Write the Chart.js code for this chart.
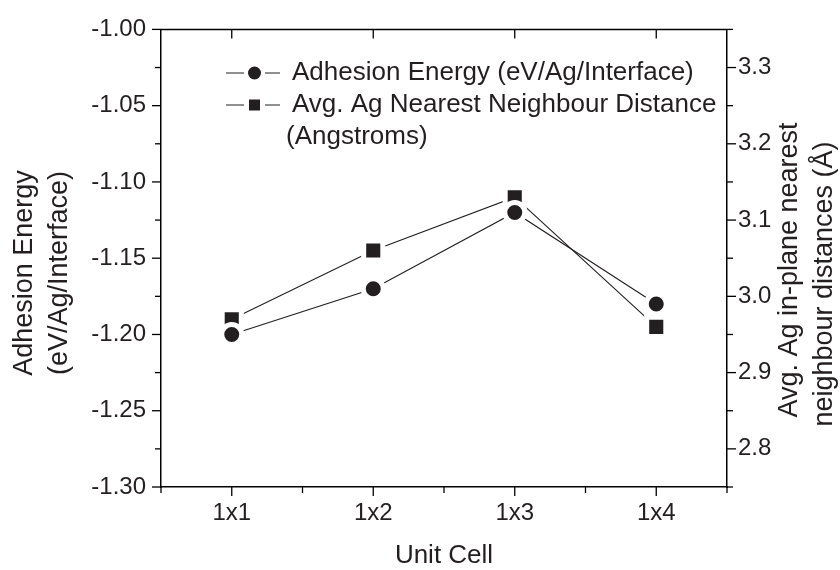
<!DOCTYPE html>
<html>
<head>
<meta charset="utf-8">
<script src="https://cdn.jsdelivr.net/npm/chart.js@4.4.0/dist/chart.umd.min.js"></script>
<style>
  html, body { margin: 0; padding: 0; background: #fff; }
  #wrap { width: 840px; height: 570px; }
</style>
</head>
<body>
<div id="wrap"><canvas id="myChart"></canvas></div>
<script>
var cells = ["1x1", "1x2", "1x3", "1x4"];
var adhesionEnergy = [-1.20, -1.17, -1.12, -1.18];
var nnDistance = [2.97, 3.06, 3.13, 2.96];

var xMajor = [1, 2, 3, 4];
var xMinor = [0.5, 1.5, 2.5, 3.5, 4.5];
var leftMajor = [-1.30, -1.25, -1.20, -1.15, -1.10, -1.05, -1.00];
var leftMinor = [-1.275, -1.225, -1.175, -1.125, -1.075, -1.025];
var rightMajor = [2.8, 2.9, 3.0, 3.1, 3.2, 3.3];
var rightMinor = [2.75, 2.85, 2.95, 3.05, 3.15, 3.25, 3.35];

var FONT = "'Liberation Sans', Arial, Helvetica, sans-serif";
var INK = "#231f20";

function isIn(list, v) {
  return list.some(function (m) { return Math.abs(m - v) < 1e-9; });
}
function tickList(a, b) {
  return a.concat(b).sort(function (p, q) { return p - q; }).map(function (v) { return { value: v }; });
}

// axis frame, tick marks, rotated titles and the in-plot legend
var frame = {
  id: "frame",
  afterDraw: function (chart) {
    var c = chart.ctx, a = chart.chartArea;
    var sx = chart.scales.x, sy = chart.scales.y, sy2 = chart.scales.y2;
    function seg(x1, y1, x2, y2) { c.beginPath(); c.moveTo(x1, y1); c.lineTo(x2, y2); c.stroke(); }
    c.save();
    c.strokeStyle = "#000";
    c.lineWidth = 1.5;
    seg(a.left, a.top, a.right, a.top);
    c.lineWidth = 1.3;
    xMajor.forEach(function (v) {
      var x = sx.getPixelForValue(v);
      seg(x, a.bottom, x, a.bottom + 9);
      seg(x, a.top, x, a.top + 9);
    });
    xMinor.forEach(function (v) {
      var x = sx.getPixelForValue(v);
      seg(x, a.bottom, x, a.bottom + 6);
    });
    leftMajor.forEach(function (v) { var y = sy.getPixelForValue(v); seg(a.left - 9, y, a.left, y); });
    leftMinor.forEach(function (v) { var y = sy.getPixelForValue(v); seg(a.left - 6, y, a.left, y); });
    rightMajor.forEach(function (v) { var y = sy2.getPixelForValue(v); seg(a.right, y, a.right + 9, y); });
    rightMinor.forEach(function (v) { var y = sy2.getPixelForValue(v); seg(a.right, y, a.right + 6, y); });

    // y titles, both reading bottom to top
    c.fillStyle = INK;
    c.font = "27px " + FONT;
    c.textAlign = "center";
    c.textBaseline = "middle";
    function vtext(t, x, y) {
      c.save(); c.translate(x, y); c.rotate(-Math.PI / 2); c.fillText(t, 0, 0); c.restore();
    }
    vtext("Adhesion Energy", 25, 273);
    vtext("(eV/Ag/Interface)", 60, 273);
    vtext("Avg. Ag in-plane nearest", 790, 270);
    vtext("neighbour distances (\u00C5)", 825, 284);

    // legend
    var ds = chart.data.datasets;
    var rows = [73, 105];
    c.lineWidth = 1;
    c.strokeStyle = INK;
    ds.forEach(function (d, i) {
      var y = rows[i];
      seg(226, y, 244, y);
      seg(265, y, 280, y);
      c.fillStyle = INK;
      if (d.pointStyle === "rect") {
        c.fillRect(249, y - 5.5, 11, 11);
      } else {
        c.beginPath(); c.arc(254.5, y, 6.5, 0, Math.PI * 2); c.fill();
      }
      c.font = "26px " + FONT;
      c.textAlign = "left";
      c.fillText(d.label, 292, y);
    });
    c.fillText("(Angstroms)", 286, 137);
    c.restore();
  }
};

var ctx = document.getElementById("myChart").getContext("2d");
var myChart = new Chart(ctx, {
  type: "line",
  data: {
    datasets: [
      {
        label: "Adhesion Energy (eV/Ag/Interface)",
        data: adhesionEnergy.map(function (v, i) { return { x: i + 1, y: v }; }),
        yAxisID: "y",
        borderColor: INK,
        borderWidth: 1.1,
        pointStyle: "circle",
        pointRadius: 10,
        pointBackgroundColor: INK,
        pointBorderColor: "#fff",
        pointBorderWidth: 5,
      },
      {
        label: "Avg. Ag Nearest Neighbour Distance",
        data: nnDistance.map(function (v, i) { return { x: i + 1, y: v }; }),
        yAxisID: "y2",
        borderColor: INK,
        borderWidth: 1.1,
        pointStyle: "rect",
        pointRadius: 13.5,
        pointBackgroundColor: INK,
        pointBorderColor: "#fff",
        pointBorderWidth: 5,
      },
    ],
  },
  options: {
    responsive: true,
    maintainAspectRatio: false,
    animation: false,
    layout: { padding: { top: 25, left: 0, right: 0, bottom: 0 } },
    plugins: { legend: { display: false }, tooltip: { enabled: false } },
    scales: {
      x: {
        type: "linear",
        min: 0.5,
        max: 4.5,
        afterBuildTicks: function (s) { s.ticks = tickList(xMajor, xMinor); },
        afterFit: function (s) { s.height = 83; },
        grid: { display: false, drawTicks: false },
        border: { display: true, color: "#000", width: 1.5 },
        ticks: {
          autoSkip: false,
          maxRotation: 0,
          padding: 12,
          color: INK,
          font: { family: FONT, size: 24 },
          callback: function (v) { return isIn(xMajor, v) ? cells[Math.round(v) - 1] : ""; },
        },
        title: {
          display: true,
          text: "Unit Cell",
          color: INK,
          font: { family: FONT, size: 26, lineHeight: 1.1 },
          padding: { top: 0, bottom: 0 },
        },
      },
      y: {
        position: "left",
        min: -1.30,
        max: -1.00,
        afterBuildTicks: function (s) { s.ticks = tickList(leftMajor, leftMinor); },
        afterFit: function (s) { s.width = 161; },
        grid: { display: false, drawTicks: false },
        border: { display: true, color: "#000", width: 1.5 },
        ticks: {
          autoSkip: false,
          padding: 15,
          color: INK,
          font: { family: FONT, size: 24 },
          callback: function (v) { return isIn(leftMajor, v) ? v.toFixed(2) : ""; },
        },
      },
      y2: {
        position: "right",
        min: 2.75,
        max: 3.35,
        afterBuildTicks: function (s) { s.ticks = tickList(rightMajor, rightMinor); },
        afterFit: function (s) { s.width = 113; },
        grid: { display: false, drawTicks: false },
        border: { display: true, color: "#000", width: 1.5 },
        ticks: {
          autoSkip: false,
          padding: 11,
          color: INK,
          font: { family: FONT, size: 24 },
          callback: function (v) { return isIn(rightMajor, v) ? v.toFixed(1) : ""; },
        },
      },
    },
  },
  plugins: [frame],
});
</script>
</body>
</html>
